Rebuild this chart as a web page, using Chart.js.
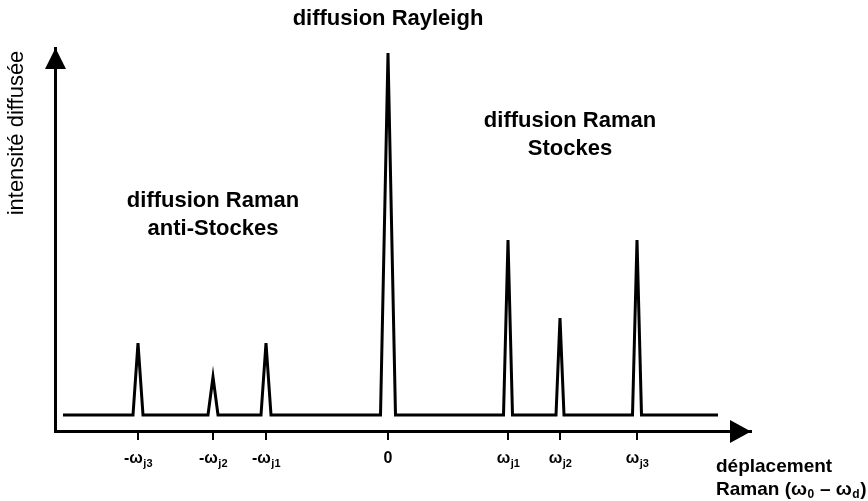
<!DOCTYPE html>
<html>
<head>
<meta charset="utf-8">
<script src="https://cdn.jsdelivr.net/npm/chart.js@4"></script>
<style>
    html, body { margin: 0; padding: 0; background: #fff; }
    #wrap { width: 868px; height: 501px; position: relative; }
</style>
</head>
<body>
<div id="wrap"><canvas id="raman"></canvas></div>
<script>
// ─── Data ─────────────────────────────────────────────────────────────────
// Peak centres on the Raman shift axis (arbitrary units, 0 = Rayleigh line)
const peakPos        = [-250, -175, -122, 0, 120, 172, 249];
const peakHeight     = [72, 38, 72, 362, 175, 97, 175];
const peakHalfWidth  = [5, 5, 5, 7.5, 4.5, 4, 4.5];
const baselineStart  = -325;
const baselineEnd    = 330;

// Tick labels: main part + subscript
const tickMain = ['-ω', '-ω', '-ω', '0', 'ω', 'ω', 'ω'];
const tickSub  = ['j3', 'j2', 'j1', '', 'j1', 'j2', 'j3'];

// Annotation blocks (anchored in data units)
const noteLines = [['diffusion Rayleigh'], ['diffusion Raman', 'Stockes'], ['diffusion Raman', 'anti-Stockes']];
const noteX     = [0, 182, -175];
const noteY     = [396, 294, 214];

const yTitle = 'intensité diffusée';

// ─── Build spectrum polyline from the peak arrays ─────────────────────────
const spectrum = [{ x: baselineStart, y: 0 }];
peakPos.forEach((p, i) => {
    spectrum.push({ x: p - peakHalfWidth[i], y: 0 });
    spectrum.push({ x: p, y: peakHeight[i] });
    spectrum.push({ x: p + peakHalfWidth[i], y: 0 });
});
spectrum.push({ x: baselineEnd, y: 0 });

const FONT = '"Liberation Sans", Arial, sans-serif';

// Draw text followed by a subscript, starting at x (or centred on it)
function subText(ctx, main, sub, x0, cy, size, subSize, centred) {
    ctx.font = `bold ${size}px ${FONT}`;
    const wMain = ctx.measureText(main).width;
    ctx.font = `bold ${subSize}px ${FONT}`;
    const wSub = sub ? ctx.measureText(sub).width : 0;
    const x = centred ? x0 - (wMain + wSub) / 2 : x0;
    ctx.textAlign = 'left';
    ctx.textBaseline = 'middle';
    ctx.font = `bold ${size}px ${FONT}`;
    ctx.fillText(main, x, cy);
    if (sub) {
        ctx.font = `bold ${subSize}px ${FONT}`;
        ctx.fillText(sub, x + wMain + 0.5, cy + 5);
    }
    return x + wMain + wSub + 1;
}

// ─── Plugin: arrows, tick labels, annotations ─────────────────────────────
const decor = {
    id: 'decor',
    afterDraw(chart) {
        const { ctx, chartArea: a, scales: { x, y } } = chart;
        ctx.save();
        ctx.fillStyle = '#000';

        // arrow heads
        ctx.beginPath();
        ctx.moveTo(a.left + 0.5, a.top);
        ctx.lineTo(a.left - 10, a.top + 21);
        ctx.lineTo(a.left + 11, a.top + 21);
        ctx.closePath();
        ctx.fill();

        ctx.beginPath();
        ctx.moveTo(a.right, a.bottom + 0.5);
        ctx.lineTo(a.right - 21, a.bottom - 11);
        ctx.lineTo(a.right - 21, a.bottom + 12);
        ctx.closePath();
        ctx.fill();

        // tick labels
        peakPos.forEach((p, i) => {
            subText(ctx, tickMain[i], tickSub[i], x.getPixelForValue(p), a.bottom + 28, 16, 11, true);
        });

        // annotation blocks
        ctx.textAlign = 'center';
        ctx.textBaseline = 'middle';
        ctx.font = `bold 22px ${FONT}`;
        noteLines.forEach((lines, i) => {
            const cx = x.getPixelForValue(noteX[i]);
            const cy = y.getPixelForValue(noteY[i]);
            lines.forEach((t, k) => ctx.fillText(t, cx, cy + k * 28));
        });

        // y axis title
        ctx.save();
        ctx.translate(a.left - 38, a.top + 85);
        ctx.rotate(-Math.PI / 2);
        ctx.font = `22px ${FONT}`;
        ctx.textAlign = 'center';
        ctx.fillText(yTitle, 0, 0);
        ctx.restore();

        // x axis title
        const tx = a.right - 35;
        const ly = a.bottom + 59;
        ctx.textAlign = 'left';
        ctx.font = `bold 19px ${FONT}`;
        ctx.fillText('déplacement', tx, a.bottom + 36);
        let nx = subText(ctx, 'Raman (ω', '0', tx, ly, 19, 12);
        nx = subText(ctx, ' – ω', 'd', nx, ly, 19, 12);
        ctx.font = `bold 19px ${FONT}`;
        ctx.fillText(')', nx, ly);

        ctx.restore();
    }
};

new Chart(document.getElementById('raman'), {
    type: 'line',
    data: {
        datasets: [{
            data: spectrum,
            borderColor: '#000',
            borderWidth: 3,
            pointRadius: 0,
            tension: 0,
            fill: false
        }]
    },
    options: {
        responsive: true,
        maintainAspectRatio: false,
        animation: false,
        layout: { padding: { left: 55, right: 117, top: 48, bottom: 61 } },
        plugins: { legend: { display: false }, tooltip: { enabled: false } },
        scales: {
            x: {
                type: 'linear',
                min: -333,
                max: 363,
                afterBuildTicks: (s) => { s.ticks = peakPos.map(v => ({ value: v })); },
                afterFit: (s) => { s.height = 9; },
                ticks: { display: false },
                grid: { display: true, drawOnChartArea: false, drawTicks: true, tickLength: 9, color: '#000', lineWidth: 2 },
                border: { display: true, color: '#000', width: 3 }
            },
            y: {
                min: -16,
                max: 367,
                afterFit: (s) => { s.width = 0; },
                ticks: { display: false },
                grid: { display: false, drawTicks: false },
                border: { display: true, color: '#000', width: 3 }
            }
        }
    },
    plugins: [decor]
});
</script>
</body>
</html>
